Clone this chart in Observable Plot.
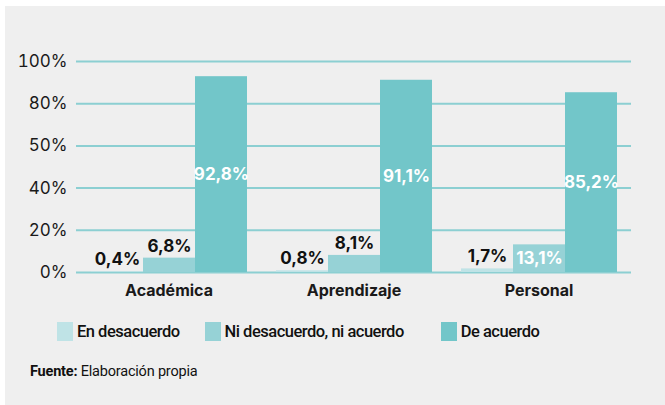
<!DOCTYPE html>
<html>
<head>
<meta charset="utf-8">
<script src="https://cdn.jsdelivr.net/npm/d3@7"></script>
<script src="https://cdn.jsdelivr.net/npm/@observablehq/plot@0.6"></script>
<style>
  html, body { margin: 0; padding: 0; background: #ffffff; }
  #box { position: absolute; left: 5px; top: 6px; width: 660px; height: 399px; background: #efefef; overflow: hidden; }
  #chart svg { display: block; }
  .legend { display: flex; align-items: center; margin-top: 20px; padding-left: 52px; font-family: Roboto, sans-serif; font-weight: 500; font-size: 16.5px; color: #111; letter-spacing: -0.5px; }
  .legend .item { display: flex; align-items: center; }
  .legend .item:nth-child(1) { margin-right: 25px; }
  .legend .item:nth-child(2) { margin-right: 37px; }
  .legend .sw { width: 16px; height: 19px; margin-right: 4px; }
  .caption { margin-top: 22px; padding-left: 25px; font-family: Roboto, sans-serif; font-size: 14.5px; color: #111; line-height: 18px; letter-spacing: -0.2px; }
  .caption b { font-weight: 700; }
</style>
</head>
<body>
<div id="box">
  <div id="chart"></div>
  <div class="legend" id="legend"></div>
  <div class="caption"><b>Fuente:</b> Elaboración propia</div>
</div>
<script>
const categories = ["Académica", "Aprendizaje", "Personal"];
const series = ["En desacuerdo", "Ni desacuerdo, ni acuerdo", "De acuerdo"];
const enDesacuerdo = [0.4, 0.8, 1.7];
const niDesacuerdo = [6.8, 8.1, 13.1];
const deAcuerdo = [92.8, 91.1, 85.2];
const colors = ["#bfe3e6", "#96d2d6", "#72c6c9"];
const yTicks = [0, 20, 40, 60, 80, 100];
const yTickLabels = ["0%", "20%", "40%", "50%", "80%", "100%"];
const gridColor = "#8ccfd2";

const seriesValues = [enDesacuerdo, niDesacuerdo, deAcuerdo];
const rows = [];
categories.forEach((cat, i) => {
  series.forEach((s, j) => {
    rows.push({cat, series: s, value: seriesValues[j][i]});
  });
});
const fmt = v => v.toFixed(1).replace(".", ",") + "%";
const small = rows.filter(d => d.value < 10);
const large = rows.filter(d => d.value >= 10);

const chart = Plot.plot({
  width: 660,
  height: 296,
  marginTop: 55,
  marginBottom: 30,
  marginLeft: 70,
  marginRight: 33,
  style: {background: "transparent", fontFamily: "Inter, sans-serif", color: "#1a1a1a"},
  fx: {domain: categories, paddingInner: 0, paddingOuter: 0, label: null},
  x: {domain: series, paddingInner: 0, paddingOuter: 0.255, axis: null},
  y: {domain: [0, 100], axis: null},
  color: {domain: series, range: colors},
  marks: [
    Plot.gridY(yTicks, {stroke: gridColor, strokeOpacity: 1, strokeWidth: 2}),
    Plot.barY(rows, {fx: "cat", x: "series", y: "value", fill: "series"}),
    Plot.axisY({ticks: yTicks, tickFormat: d => yTickLabels[yTicks.indexOf(d)], tickSize: 0, tickPadding: 9, fontSize: 17, label: null}),
    Plot.axisFx({anchor: "bottom", tickSize: 0, tickPadding: 12, fontSize: 16, fontWeight: "bold", label: null}),
    Plot.text(small, {fx: "cat", x: "series", y: "value", text: d => fmt(d.value), dy: -12, fill: "#111", fontSize: 17, fontWeight: "bold"}),
    Plot.text(large, {fx: "cat", x: "series", y: d => d.value / 2, text: d => fmt(d.value), fill: "#ffffff", fontSize: 17, fontWeight: "bold"})
  ]
});
document.getElementById("chart").appendChild(chart);

const legend = document.getElementById("legend");
series.forEach((s, i) => {
  const item = document.createElement("div");
  item.className = "item";
  const sw = document.createElement("div");
  sw.className = "sw";
  sw.style.background = colors[i];
  const label = document.createElement("span");
  label.textContent = s;
  item.appendChild(sw);
  item.appendChild(label);
  legend.appendChild(item);
});
</script>
</body>
</html>
